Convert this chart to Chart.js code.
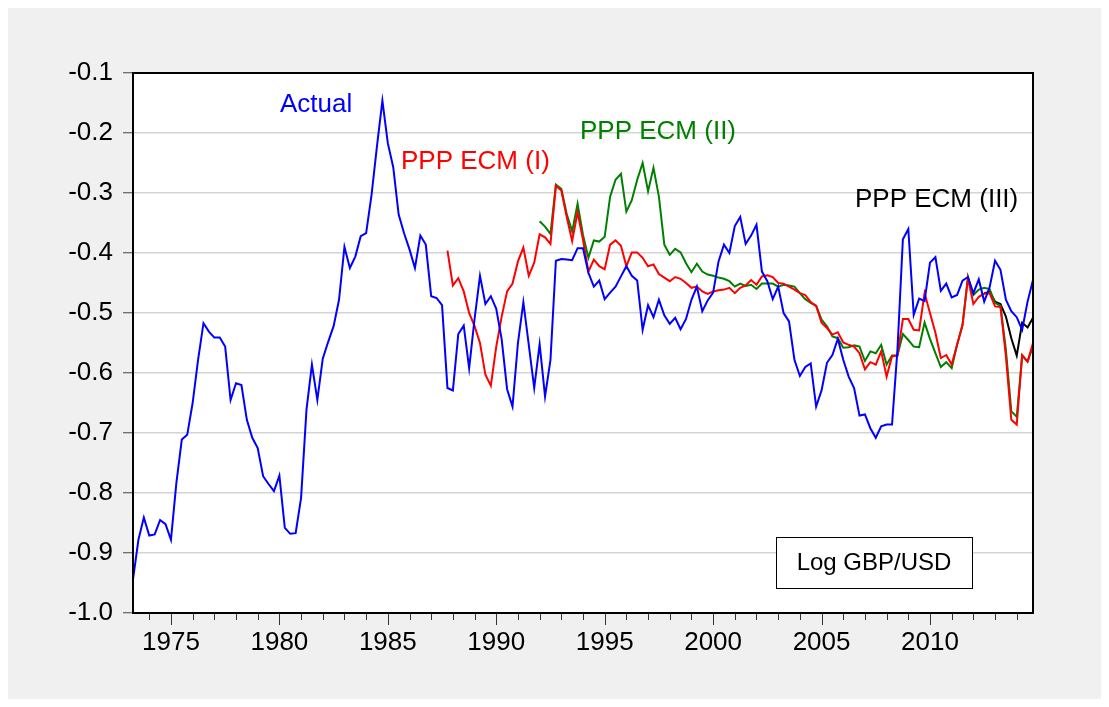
<!DOCTYPE html>
<html>
<head>
<meta charset="utf-8">
<script src="https://cdn.jsdelivr.net/npm/chart.js@4.4.1/dist/chart.umd.min.js"></script>
<style>
  html, body { margin: 0; padding: 0; background: #fff; }
  #wrap { width: 1109px; height: 707px; }
</style>
</head>
<body>
<div id="wrap"><canvas id="chart"></canvas></div>
<script>
// quarterly sample 1973Q2 - 2014Q4
const firstYear = 1973, firstQuarter = 2, lastYear = 2014, lastQuarter = 4;

// Log GBP/USD, actual
const actual = [
  -0.944, -0.878, -0.841, -0.871, -0.869, -0.845, -0.852, -0.878, -0.783, -0.711,
  -0.703, -0.650, -0.578, -0.517, -0.531, -0.541, -0.541, -0.556, -0.645, -0.617,
  -0.620, -0.678, -0.708, -0.725, -0.772, -0.785, -0.797, -0.771, -0.858, -0.868,
  -0.867, -0.808, -0.661, -0.586, -0.645, -0.576, -0.548, -0.522, -0.478, -0.390,
  -0.425, -0.406, -0.372, -0.367, -0.303, -0.222, -0.146, -0.217, -0.257, -0.336,
  -0.367, -0.394, -0.425, -0.371, -0.386, -0.472, -0.475, -0.487, -0.625, -0.629,
  -0.535, -0.521, -0.592, -0.510, -0.438, -0.485, -0.472, -0.493, -0.544, -0.627,
  -0.656, -0.550, -0.482, -0.553, -0.625, -0.552, -0.639, -0.578, -0.413, -0.410,
  -0.411, -0.412, -0.392, -0.392, -0.433, -0.456, -0.446, -0.477, -0.466, -0.456,
  -0.439, -0.422, -0.438, -0.446, -0.528, -0.487, -0.507, -0.478, -0.504, -0.518,
  -0.508, -0.527, -0.510, -0.478, -0.456, -0.497, -0.479, -0.466, -0.414, -0.386,
  -0.400, -0.355, -0.340, -0.385, -0.371, -0.353, -0.431, -0.447, -0.477, -0.456,
  -0.500, -0.514, -0.578, -0.605, -0.590, -0.584, -0.656, -0.629, -0.583, -0.570,
  -0.543, -0.578, -0.606, -0.625, -0.671, -0.669, -0.692, -0.708, -0.689, -0.686,
  -0.686, -0.561, -0.377, -0.360, -0.503, -0.476, -0.480, -0.416, -0.407, -0.463,
  -0.451, -0.474, -0.470, -0.446, -0.440, -0.467, -0.444, -0.481, -0.457, -0.413,
  -0.428, -0.478, -0.497, -0.507, -0.528, -0.481, -0.445
];

// PPP ECM (I), from 1987Q4
const ecm1Start = '1987Q4';
const ecm1 = [
  -0.396, -0.454, -0.442, -0.464, -0.500, -0.522, -0.550, -0.603, -0.621, -0.556,
  -0.506, -0.464, -0.451, -0.414, -0.391, -0.438, -0.416, -0.369, -0.374, -0.385,
  -0.288, -0.296, -0.340, -0.380, -0.332, -0.378, -0.431, -0.411, -0.422, -0.427,
  -0.386, -0.379, -0.388, -0.422, -0.399, -0.399, -0.408, -0.422, -0.419, -0.435,
  -0.441, -0.447, -0.440, -0.443, -0.450, -0.458, -0.456, -0.464, -0.468, -0.464,
  -0.462, -0.461, -0.458, -0.467, -0.458, -0.454, -0.445, -0.453, -0.439, -0.437,
  -0.440, -0.450, -0.451, -0.456, -0.461, -0.467, -0.470, -0.482, -0.488, -0.516,
  -0.525, -0.536, -0.532, -0.549, -0.553, -0.556, -0.567, -0.594, -0.582, -0.586,
  -0.564, -0.606, -0.572, -0.571, -0.510, -0.510, -0.528, -0.529, -0.467, -0.500,
  -0.533, -0.575, -0.570, -0.586, -0.553, -0.520, -0.442, -0.485, -0.473, -0.468,
  -0.467, -0.489, -0.490, -0.572, -0.678, -0.686, -0.570, -0.581, -0.550
];

// PPP ECM (II), from 1992Q1
const ecm2Start = '1992Q1';
const ecm2 = [
  -0.347, -0.356, -0.368, -0.286, -0.293, -0.335, -0.364, -0.318, -0.370, -0.408,
  -0.379, -0.381, -0.373, -0.306, -0.278, -0.268, -0.331, -0.312, -0.278, -0.250,
  -0.297, -0.258, -0.306, -0.386, -0.403, -0.393, -0.399, -0.417, -0.432, -0.418,
  -0.431, -0.436, -0.438, -0.441, -0.443, -0.447, -0.456, -0.451, -0.455, -0.453,
  -0.460, -0.451, -0.451, -0.451, -0.456, -0.453, -0.454, -0.456, -0.467, -0.477,
  -0.483, -0.488, -0.511, -0.522, -0.539, -0.542, -0.558, -0.557, -0.554, -0.556,
  -0.580, -0.564, -0.567, -0.553, -0.586, -0.571, -0.571, -0.535, -0.545, -0.556,
  -0.557, -0.516, -0.543, -0.567, -0.590, -0.582, -0.592, -0.553, -0.520, -0.440,
  -0.470, -0.461, -0.458, -0.460, -0.483, -0.488, -0.561, -0.664, -0.673, -0.571,
  -0.581, -0.556
];

// PPP ECM (III), from 2012Q3
const ecm3Start = '2012Q3';
const ecm3 = [-0.467, -0.465, -0.481, -0.485, -0.506, -0.542, -0.571, -0.516, -0.524, -0.508];

const yTicks = [-1.0, -0.9, -0.8, -0.7, -0.6, -0.5, -0.4, -0.3, -0.2, -0.1];
const xTickYears = [1975, 1980, 1985, 1990, 1995, 2000, 2005, 2010];

const labels = [];
for (let y = firstYear; y <= lastYear; y++) {
  for (let q = 1; q <= 4; q++) {
    if (y === firstYear && q < firstQuarter) continue;
    if (y === lastYear && q > lastQuarter) continue;
    labels.push(y + 'Q' + q);
  }
}

function align(start, arr) {
  const i0 = labels.indexOf(start);
  return labels.map((_, i) => (i >= i0 && i - i0 < arr.length) ? arr[i - i0] : null);
}

const FONT = "'Liberation Sans', Arial, sans-serif";

const decor = {
  id: 'decor',
  beforeDraw(chart) {
    const { ctx, chartArea: a } = chart;
    ctx.save();
    ctx.fillStyle = '#ffffff';
    ctx.fillRect(0, 0, chart.width, chart.height);
    ctx.fillStyle = '#f0f0f0';
    ctx.fillRect(8, 8, chart.width - 16, chart.height - 16);
    ctx.fillStyle = '#ffffff';
    ctx.fillRect(a.left, a.top, a.right - a.left, a.bottom - a.top);
    ctx.restore();
  },
  afterDraw(chart) {
    const { ctx, chartArea: a } = chart;
    const xs = chart.scales.x;
    ctx.save();
    // year ticks below the axis
    ctx.strokeStyle = '#333';
    ctx.lineWidth = 1;
    labels.forEach((lab, i) => {
      if (!lab.endsWith('Q1')) return;
      const yr = parseInt(lab, 10);
      const x = Math.round(xs.getPixelForValue(i)) + 0.5;
      const len = xTickYears.includes(yr) ? 12 : 7;
      ctx.beginPath();
      ctx.moveTo(x, a.bottom);
      ctx.lineTo(x, a.bottom + len);
      ctx.stroke();
    });
    // frame
    ctx.strokeStyle = '#000';
    ctx.lineWidth = 2;
    ctx.strokeRect(a.left, a.top, a.right - a.left, a.bottom - a.top);

    // series captions
    ctx.font = '26px ' + FONT;
    ctx.textBaseline = 'alphabetic';
    ctx.textAlign = 'left';
    ctx.fillStyle = '#0000ff';
    ctx.fillText('Actual', 280, 111.5);
    ctx.fillStyle = '#ff0000';
    ctx.fillText('PPP ECM (I)', 401, 169);
    ctx.fillStyle = '#008000';
    ctx.fillText('PPP ECM (II)', 580, 139);
    ctx.fillStyle = '#000000';
    ctx.fillText('PPP ECM (III)', 855, 206.5);

    // legend box
    const bx = 776, by = 537, bw = 196, bh = 51;
    ctx.fillStyle = '#ffffff';
    ctx.fillRect(bx, by, bw, bh);
    ctx.strokeStyle = '#000';
    ctx.lineWidth = 1;
    ctx.strokeRect(bx + 0.5, by + 0.5, bw, bh);
    ctx.fillStyle = '#000';
    ctx.textAlign = 'center';
    ctx.textBaseline = 'middle';
    ctx.font = '24px ' + FONT;
    ctx.fillText('Log GBP/USD', bx + bw / 2, by + bh / 2 + 1);
    ctx.restore();
  }
};

new Chart(document.getElementById('chart'), {
  type: 'line',
  data: {
    labels: labels,
    datasets: [
      { label: 'Actual', data: actual, borderColor: '#0000ff' },
      { label: 'PPP ECM (I)', data: align(ecm1Start, ecm1), borderColor: '#ff0000' },
      { label: 'PPP ECM (II)', data: align(ecm2Start, ecm2), borderColor: '#008000' },
      { label: 'PPP ECM (III)', data: align(ecm3Start, ecm3), borderColor: '#000000' }
    ]
  },
  options: {
    responsive: true,
    maintainAspectRatio: false,
    animation: false,
    events: [],
    layout: { padding: { left: 0, top: 73, right: 76, bottom: 0 } },
    elements: {
      point: { radius: 0 },
      line: { borderWidth: 2, tension: 0, fill: false }
    },
    plugins: { legend: { display: false }, tooltip: { enabled: false } },
    scales: {
      x: {
        type: 'category',
        offset: false,
        afterFit: s => { s.height = 94; },
        grid: { display: true, drawOnChartArea: false, drawTicks: false },
        border: { display: false },
        ticks: {
          autoSkip: false,
          maxRotation: 0,
          minRotation: 0,
          padding: 14,
          color: '#000',
          font: { family: FONT, size: 26 },
          callback: (v, i) => {
            const lab = labels[i];
            const yr = parseInt(lab, 10);
            return (lab.endsWith('Q1') && xTickYears.includes(yr)) ? String(yr) : '';
          }
        }
      },
      y: {
        min: yTicks[0],
        max: yTicks[yTicks.length - 1],
        afterFit: s => { s.width = 133; },
        afterBuildTicks: s => { s.ticks = yTicks.map(v => ({ value: v })); },
        grid: { color: '#d4d4d4', lineWidth: 1.5, tickColor: '#444', tickLength: 10, tickWidth: 1 },
        border: { display: false },
        ticks: {
          padding: 10,
          color: '#000',
          font: { family: FONT, size: 26 },
          callback: v => v.toFixed(1)
        }
      }
    }
  },
  plugins: [decor]
});
</script>
</body>
</html>
